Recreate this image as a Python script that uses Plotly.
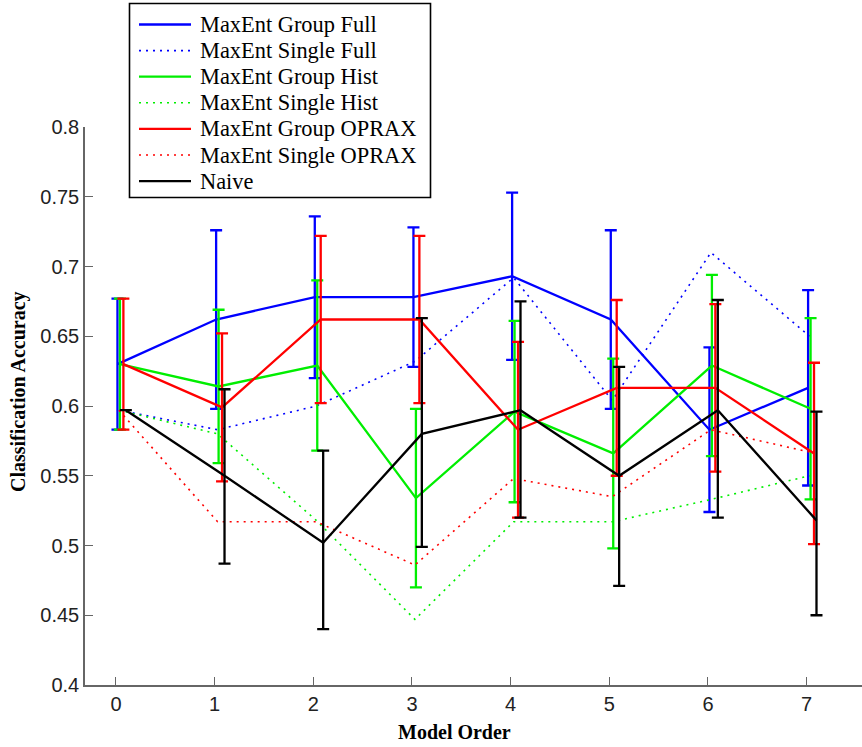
import plotly.graph_objects as go

# ---------------- data ----------------
model_order = [0, 1, 2, 3, 4, 5, 6, 7]
x_tick_labels = ["0", "1", "2", "3", "4", "5", "6", "7"]
y_tick_values = [0.4, 0.45, 0.5, 0.55, 0.6, 0.65, 0.7, 0.75, 0.8]
y_tick_labels = ["0.4", "0.45", "0.5", "0.55", "0.6", "0.65", "0.7", "0.75", "0.8"]

group_full_mean = [0.630, 0.662, 0.678, 0.678, 0.693, 0.662, 0.583, 0.613]
group_full_err = [0.047, 0.064, 0.058, 0.050, 0.060, 0.064, 0.059, 0.070]
single_full = [0.597, 0.583, 0.600, 0.632, 0.692, 0.604, 0.710, 0.650]

group_hist_mean = [0.630, 0.614, 0.629, 0.534, 0.596, 0.566, 0.629, 0.598]
group_hist_err = [0.047, 0.055, 0.061, 0.064, 0.065, 0.068, 0.065, 0.065]
single_hist = [0.597, 0.580, 0.518, 0.447, 0.517, 0.517, 0.533, 0.550]

group_oprax_mean = [0.630, 0.599, 0.662, 0.662, 0.583, 0.613, 0.613, 0.566]
group_oprax_err = [0.047, 0.053, 0.060, 0.060, 0.063, 0.063, 0.060, 0.065]
single_oprax = [0.597, 0.517, 0.517, 0.486, 0.548, 0.535, 0.583, 0.567]

naive_mean = [0.597, 0.550, 0.502, 0.580, 0.597, 0.550, 0.597, 0.518]
naive_err_plus = [0.0, 0.062, 0.066, 0.083, 0.078, 0.078, 0.079, 0.078]
naive_err_minus = [0.0, 0.063, 0.062, 0.081, 0.077, 0.079, 0.077, 0.068]

series_names = [
    "MaxEnt Group Full", "MaxEnt Single Full",
    "MaxEnt Group Hist", "MaxEnt Single Hist",
    "MaxEnt Group OPRAX", "MaxEnt Single OPRAX",
    "Naive",
]

# ---------------- style ----------------
BLUE, GREEN, RED, BLACK = "#0000ff", "#00ee00", "#ff0000", "#000000"
SERIF = "Liberation Serif, Times New Roman, serif"
SANS = "Liberation Sans, Arial, sans-serif"
DOT = "2px,5px"
series_colors = [BLUE, BLUE, GREEN, GREEN, RED, RED, BLACK]
series_dash = ["solid", DOT, "solid", DOT, "solid", DOT, "solid"]

W, H = 862, 747
L, R, T, B = 85, 0, 127, 62
pw, ph = W - L - R, H - T - B


def px2x(px):
    return (px - L) / pw


def py2y(py):
    return 1 - (py - T) / ph


def shifted(offset):
    return [v + offset for v in model_order]


fig = go.Figure()


def add_group(name, mean, err, color, offset, err_minus=None):
    ey = dict(type="data", array=err, visible=True, color=color,
              thickness=2.3, width=6)
    if err_minus is not None:
        ey["symmetric"] = False
        ey["arrayminus"] = err_minus
    fig.add_trace(go.Scatter(
        x=shifted(offset), y=mean, name=name, mode="lines",
        line=dict(color=color, width=2.3), error_y=ey, showlegend=False,
    ))


def add_single(name, vals, color, offset):
    fig.add_trace(go.Scatter(
        x=shifted(offset), y=vals, name=name, mode="lines",
        line=dict(color=color, width=1.6, dash=DOT), showlegend=False,
    ))


add_group(series_names[0], group_full_mean, group_full_err, BLUE, 0.015)
add_single(series_names[1], single_full, BLUE, 0.03)
add_group(series_names[2], group_hist_mean, group_hist_err, GREEN, 0.04)
add_single(series_names[3], single_hist, GREEN, 0.03)
add_group(series_names[4], group_oprax_mean, group_oprax_err, RED, 0.075)
add_single(series_names[5], single_oprax, RED, 0.03)
add_group(series_names[6], naive_mean, naive_err_plus, BLACK, 0.1,
          err_minus=naive_err_minus)

# ---------------- legend (drawn as shapes + text) ----------------
shapes = [dict(type="rect", xref="paper", yref="paper", layer="above",
               x0=px2x(129.5), x1=px2x(430.5), y0=py2y(197.5), y1=py2y(3.5),
               fillcolor="white", line=dict(color="black", width=1.6))]
annotations = []
for i, (nm, col, dsh) in enumerate(zip(series_names, series_colors, series_dash)):
    yy = py2y(24.5 + 26.1 * i)
    shapes.append(dict(type="line", xref="paper", yref="paper", layer="above",
                       x0=px2x(139), x1=px2x(191), y0=yy, y1=yy,
                       line=dict(color=col, width=2.3 if dsh == "solid" else 1.6,
                                 dash=dsh)))
    annotations.append(dict(text=nm, xref="paper", yref="paper",
                            x=px2x(198), y=yy, xanchor="left", yanchor="middle",
                            showarrow=False,
                            font=dict(family=SERIF, size=22.4, color="black")))

annotations += [
    dict(text="<b>Classification Accuracy</b>", textangle=-90,
         xref="paper", yref="paper", x=px2x(18), y=py2y(392),
         xanchor="center", yanchor="middle", showarrow=False,
         font=dict(family=SERIF, size=20, color="black")),
    dict(text="<b>Model Order</b>",
         xref="paper", yref="paper", x=px2x(454.5), y=py2y(732),
         xanchor="center", yanchor="middle", showarrow=False,
         font=dict(family=SERIF, size=20, color="black")),
]

fig.update_layout(
    width=W, height=H,
    margin=dict(l=L, r=R, t=T, b=B, pad=0),
    paper_bgcolor="white", plot_bgcolor="white",
    showlegend=False,
    xaxis=dict(
        range=[(84.7 - 115.7) / 98.7, (862 - 115.7) / 98.7],
        tickmode="array", tickvals=model_order, ticktext=x_tick_labels,
        ticks="inside", ticklen=8, tickwidth=1.3, tickcolor="#666666",
        showline=True, linecolor="#666666", linewidth=1.5,
        showgrid=False, zeroline=False,
        tickfont=dict(family=SANS, size=20, color="#222222"),
    ),
    yaxis=dict(
        range=[0.4, 0.8],
        tickmode="array", tickvals=y_tick_values, ticktext=y_tick_labels,
        ticks="inside", ticklen=8, tickwidth=1.3, tickcolor="#666666",
        showline=True, linecolor="#666666", linewidth=1.5,
        showgrid=False, zeroline=False,
        tickfont=dict(family=SANS, size=20, color="#222222"),
    ),
    shapes=shapes,
    annotations=annotations,
)

fig.write_html(
    "out.html",
    config={"displayModeBar": False},
    post_script="document.body.style.margin='0';document.body.style.overflow='hidden';",
)
